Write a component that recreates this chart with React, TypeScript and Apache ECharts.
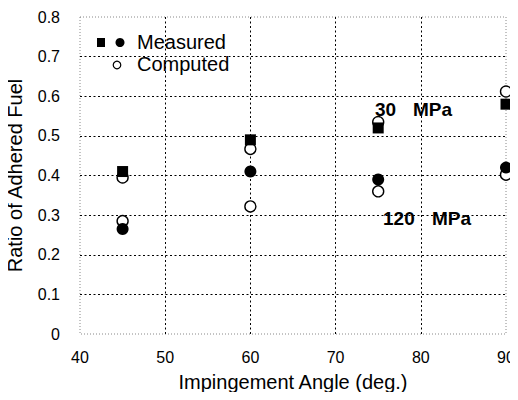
import React, { useEffect, useRef } from "react";
import * as echarts from "echarts";

const angles = [45, 60, 75, 90];
const measured30 = [0.41, 0.49, 0.52, 0.58];
const computed30 = [0.395, 0.467, 0.535, 0.612];
const measured120 = [0.265, 0.41, 0.39, 0.42];
const computed120 = [0.285, 0.322, 0.36, 0.402];
const yTicks = { min: 0, max: 0.8, interval: 0.1 };
const xTicks = { min: 40, max: 90, interval: 10 };

const FONT = "'Liberation Sans', Arial, Helvetica, sans-serif";

function pairs(ys: number[]) {
  return angles.map((a, i) => [a, ys[i]]);
}

export default function App() {
  const ref = useRef<HTMLDivElement>(null);
  useEffect(() => {
    const chart = echarts.init(ref.current!, null, { renderer: "svg" });
    const openCircle = {
      symbol: "circle",
      symbolSize: 11,
      itemStyle: { color: "#fff", borderColor: "#000", borderWidth: 1.4, opacity: 1 },
    };
    const grid = {
      show: true,
      showMinLine: false,
      showMaxLine: false,
      lineStyle: { color: "#000", width: 1, type: [2, 2.5] },
    };
    chart.setOption({
      animation: false,
      backgroundColor: "#fff",
      grid: {
        left: 80,
        right: 12,
        top: 17,
        bottom: 66,
        containLabel: false,
        outerBoundsMode: "none",
        show: true,
        borderColor: "#888",
        borderWidth: 1,
        borderType: [1, 2],
      },
      xAxis: {
        type: "value",
        min: xTicks.min,
        max: xTicks.max,
        interval: xTicks.interval,
        name: "Impingement Angle (deg.)",
        nameLocation: "middle",
        nameGap: 38,
        nameTextStyle: { fontFamily: FONT, fontSize: 20, color: "#000" },
        axisLine: { show: false },
        axisTick: { show: false },
        axisLabel: { fontFamily: FONT, fontSize: 16, color: "#000", margin: 15 },
        splitLine: grid,
      },
      yAxis: {
        type: "value",
        min: yTicks.min,
        max: yTicks.max,
        interval: yTicks.interval,
        name: "Ratio of Adhered Fuel",
        nameLocation: "middle",
        nameGap: 55,
        nameTextStyle: { fontFamily: FONT, fontSize: 20, color: "#000" },
        axisLine: { show: false },
        axisTick: { show: false },
        axisLabel: { fontFamily: FONT, fontSize: 16, color: "#000", margin: 20 },
        splitLine: grid,
      },
      series: [
        { name: "Computed 30 MPa", type: "scatter", data: pairs(computed30), ...openCircle },
        { name: "Computed 120 MPa", type: "scatter", data: pairs(computed120), ...openCircle },
        {
          name: "Measured 30 MPa",
          type: "scatter",
          data: pairs(measured30),
          symbol: "rect",
          symbolSize: 11,
          itemStyle: { color: "#000", opacity: 1 },
        },
        {
          name: "Measured 120 MPa",
          type: "scatter",
          data: pairs(measured120),
          symbol: "circle",
          symbolSize: 12,
          itemStyle: { color: "#000", opacity: 1 },
        },
      ],
      graphic: [
        { type: "rect", shape: { x: 97, y: 38, width: 8, height: 9 }, style: { fill: "#000" } },
        { type: "circle", shape: { cx: 120, cy: 42.5, r: 4.5 }, style: { fill: "#000" } },
        { type: "circle", shape: { cx: 117, cy: 65, r: 3.8 }, style: { fill: "#fff", stroke: "#000", lineWidth: 1.2 } },
        {
          type: "text",
          x: 137,
          y: 42,
          style: { text: "Measured", font: `20px ${FONT}`, fill: "#000", textVerticalAlign: "middle" },
        },
        {
          type: "text",
          x: 137,
          y: 64,
          style: { text: "Computed", font: `20px ${FONT}`, fill: "#000", textVerticalAlign: "middle" },
        },
        {
          type: "text",
          x: 375,
          y: 109,
          style: { text: "30", font: `bold 19px ${FONT}`, fill: "#000", textVerticalAlign: "middle" },
        },
        {
          type: "text",
          x: 413,
          y: 109,
          style: { text: "MPa", font: `bold 19px ${FONT}`, fill: "#000", textVerticalAlign: "middle" },
        },
        {
          type: "text",
          x: 383,
          y: 218,
          style: { text: "120", font: `bold 19px ${FONT}`, fill: "#000", textVerticalAlign: "middle" },
        },
        {
          type: "text",
          x: 432,
          y: 218,
          style: { text: "MPa", font: `bold 19px ${FONT}`, fill: "#000", textVerticalAlign: "middle" },
        },
      ],
    });
    return () => chart.dispose();
  }, []);
  return <div ref={ref} style={{ width: 518, height: 400, margin: -8 }} />;
}
